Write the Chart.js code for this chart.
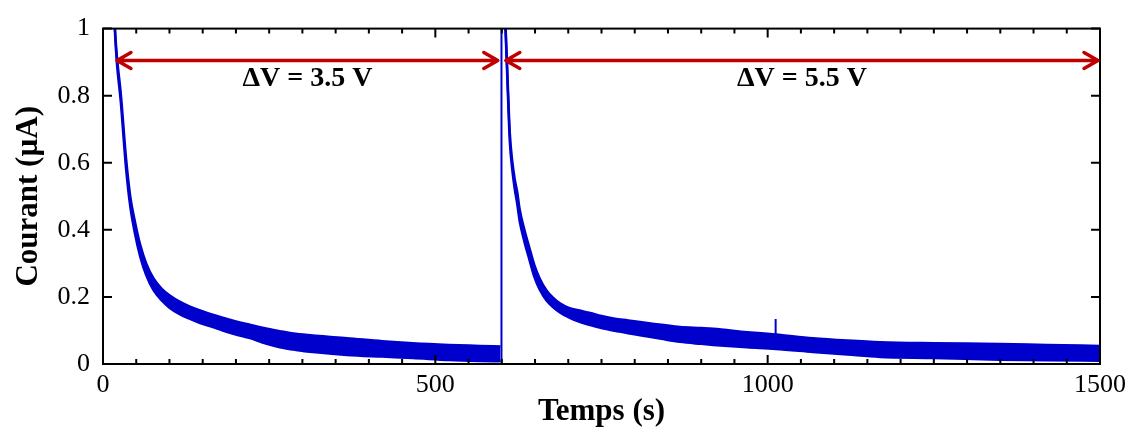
<!DOCTYPE html>
<html>
<head>
<meta charset="utf-8">
<script src="https://cdn.jsdelivr.net/npm/chart.js@4.4.1/dist/chart.umd.min.js"></script>
<style>
  html, body { margin: 0; padding: 0; background: #fff; }
  #wrap { width: 1135px; height: 430px; }
</style>
</head>
<body>
<div id="wrap"><canvas id="courant"></canvas></div>
<script>
// first step (dV = 3.5 V): upper / lower edge of the noisy band
var time1 = [16, 18, 21, 26.6, 34.6, 41, 48, 56, 65, 76, 88, 100, 116, 130, 146, 165, 180, 200, 221, 240, 266, 290, 320, 367, 420, 466, 520, 567, 598];
var high1 = [1.1, 1.0, 0.915, 0.81, 0.615, 0.50, 0.425, 0.355, 0.30, 0.255, 0.225, 0.205, 0.185, 0.172, 0.16, 0.147, 0.138, 0.127, 0.117, 0.108, 0.098, 0.09, 0.084, 0.077, 0.068, 0.062, 0.057, 0.054, 0.052];
var low1  = [1.1, 0.99, 0.895, 0.785, 0.585, 0.47, 0.39, 0.32, 0.265, 0.22, 0.19, 0.168, 0.148, 0.135, 0.122, 0.11, 0.10, 0.088, 0.077, 0.064, 0.05, 0.042, 0.035, 0.027, 0.022, 0.018, 0.012, 0.009, 0.008];

// second step (dV = 5.5 V)
var time2 = [603, 605.8, 609, 612, 616, 620, 623, 627, 634, 641, 649, 657, 667, 677, 688, 700, 715, 733, 750, 770, 790, 808, 840, 868, 900, 918, 969, 1012, 1068, 1120, 1169, 1250, 1350, 1420, 1500];
var high2 = [1.1, 1.0, 0.835, 0.69, 0.60, 0.545, 0.515, 0.46, 0.40, 0.35, 0.295, 0.255, 0.22, 0.198, 0.18, 0.168, 0.16, 0.152, 0.143, 0.135, 0.13, 0.125, 0.117, 0.11, 0.107, 0.105, 0.095, 0.088, 0.077, 0.07, 0.065, 0.062, 0.06, 0.057, 0.054];
var low2  = [1.1, 0.985, 0.815, 0.665, 0.575, 0.515, 0.48, 0.425, 0.365, 0.315, 0.26, 0.222, 0.19, 0.17, 0.153, 0.14, 0.127, 0.116, 0.107, 0.099, 0.092, 0.086, 0.075, 0.066, 0.06, 0.057, 0.05, 0.045, 0.036, 0.028, 0.021, 0.018, 0.013, 0.011, 0.01];

// switching spike and the small glitch
var jumpT = [599.5, 599.5];
var jumpV = [0.005, 1.1];
var glitchT = [1012, 1012];
var glitchV = [0.085, 0.134];

// arrows + labels
var arrowFrom = [21, 606];
var arrowTo = [597, 1500];
var arrowY = 0.905;
var labelY = 0.85;
var arrowLabels = ['\u0394V = 3.5 V', '\u0394V = 5.5 V'];

var blue = '#0000cc';
var red = '#c00000';
var serif = "'Liberation Serif', 'Times New Roman', serif";

function pts(xs, ys) {
  return xs.map(function(x, i) { return { x: x, y: ys[i] }; });
}

function band(xs, ys, fill, w) {
  return {
    data: pts(xs, ys),
    borderColor: blue,
    backgroundColor: blue,
    borderWidth: w,
    pointRadius: 0,
    cubicInterpolationMode: 'monotone',
    fill: fill,
    clip: 0
  };
}

var framePlugin = {
  id: 'frame',
  afterDatasetsDraw: function(chart) {
    var c = chart.ctx, a = chart.chartArea;
    var xs = chart.scales.x, ys = chart.scales.y;
    c.save();
    c.strokeStyle = '#000';
    c.lineWidth = 2;
    c.strokeRect(a.left, a.top, a.right - a.left, a.bottom - a.top);
    c.beginPath();
    xs.ticks.forEach(function(t) {
      var px = xs.getPixelForValue(t.value);
      var len = t.value % 500 === 0 ? 9 : 5;
      c.moveTo(px, a.bottom); c.lineTo(px, a.bottom - len);
      c.moveTo(px, a.top); c.lineTo(px, a.top + len);
    });
    ys.ticks.forEach(function(t) {
      var py = ys.getPixelForValue(t.value);
      c.moveTo(a.left, py); c.lineTo(a.left + 9, py);
      c.moveTo(a.right, py); c.lineTo(a.right - 9, py);
    });
    c.stroke();

    // double arrows
    c.strokeStyle = red;
    c.lineWidth = 3.5;
    c.lineCap = 'round';
    c.lineJoin = 'round';
    var py = ys.getPixelForValue(arrowY);
    for (var i = 0; i < arrowFrom.length; i++) {
      var x0 = xs.getPixelForValue(arrowFrom[i]);
      var x1 = xs.getPixelForValue(arrowTo[i]) - 2;
      c.beginPath();
      c.moveTo(x0, py); c.lineTo(x1, py);
      c.moveTo(x0 + 14, py - 8); c.lineTo(x0, py); c.lineTo(x0 + 14, py + 8);
      c.moveTo(x1 - 14, py - 8); c.lineTo(x1, py); c.lineTo(x1 - 14, py + 8);
      c.stroke();
      c.fillStyle = '#000';
      c.font = 'bold 28px ' + serif;
      c.textAlign = 'center';
      c.textBaseline = 'middle';
      c.fillText(arrowLabels[i], (x0 + x1) / 2, ys.getPixelForValue(labelY));
    }
    c.restore();
  }
};

new Chart(document.getElementById('courant'), {
  type: 'line',
  data: {
    datasets: [
      band(time1, high1, '+1', 2.5),
      band(time1, low1, false, 2.5),
      band(time2, high2, '+1', 2.5),
      band(time2, low2, false, 2.5),
      band(jumpT, jumpV, false, 2),
      band(glitchT, glitchV, false, 2)
    ]
  },
  options: {
    responsive: true,
    maintainAspectRatio: false,
    animation: false,
    layout: { padding: { top: 28, right: 35, left: 0, bottom: 0 } },
    plugins: { legend: { display: false }, tooltip: { enabled: false } },
    scales: {
      x: {
        type: 'linear',
        min: 0,
        max: 1500,
        afterFit: function(s) { s.height = 66; },
        grid: { display: false, drawTicks: false },
        border: { display: false },
        ticks: {
          stepSize: 50,
          autoSkip: false,
          maxRotation: 0,
          padding: 6,
          color: '#000',
          font: { family: serif, size: 26 },
          callback: function(v) { return v % 500 === 0 ? String(v) : ''; }
        },
        title: {
          display: true,
          text: 'Temps (s)',
          color: '#000',
          font: { family: serif, size: 31, weight: 'bold', lineHeight: 1 },
          padding: { top: 0, bottom: 3 }
        }
      },
      y: {
        min: 0,
        max: 1,
        afterFit: function(s) { s.width = 103; },
        grid: { display: false, drawTicks: false },
        border: { display: false },
        ticks: {
          stepSize: 0.2,
          padding: 13,
          color: '#000',
          font: { family: serif, size: 26 },
          callback: function(v) { return String(+v.toFixed(1)); }
        },
        title: {
          display: true,
          text: 'Courant (\u00b5A)',
          color: '#000',
          font: { family: serif, size: 31, weight: 'bold', lineHeight: 1 },
          padding: { top: 13, bottom: 0 }
        }
      }
    }
  },
  plugins: [framePlugin]
});
</script>
</body>
</html>
